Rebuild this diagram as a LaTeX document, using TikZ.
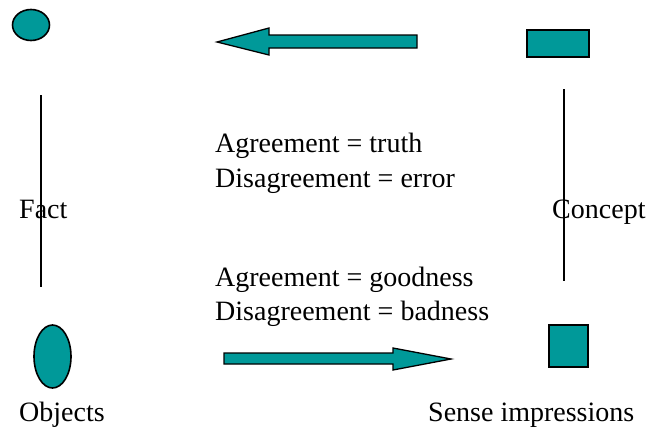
\documentclass[tikz,border=0pt]{standalone}
\usepackage{fontspec}
\setmainfont{Liberation Serif}
\definecolor{teal1}{RGB}{0,153,153}
\begin{document}
\begin{tikzpicture}[x=1pt,y=-1pt,
  shapebox/.style={draw=black,line width=1.6pt,fill=teal1},
  vline/.style={line width=2.6pt,black},
  lbl/.style={anchor=base west,inner sep=0pt,font=\fontsize{28}{34}\selectfont}]
\useasboundingbox (0,0) rectangle (652,429);
% shapes
\draw[shapebox] (31,25) ellipse [x radius=18.5,y radius=15.5];
\draw[shapebox] (527,30) rectangle (589,57);
\draw[shapebox] (52.5,356.5) ellipse [x radius=18.5,y radius=31.5];
\draw[shapebox] (549,325) rectangle (588,367);
% arrows
\draw[shapebox,line width=1.3pt,line join=miter] (217,42) -- (269,28) -- (269,35) -- (417,35) -- (417,48) -- (269,48) -- (269,55) -- cycle;
\draw[shapebox,line width=1.3pt,line join=miter] (451,359) -- (393,348) -- (393,353) -- (224,353) -- (224,364) -- (393,364) -- (393,370) -- cycle;
% texts
\node[lbl] (fact) at (19,218) {Fact};
\node[lbl] (concept) at (552,218) {Concept};
\node[lbl] (objects) at (19,421) {Objects};
\node[lbl] (sense) at (428,421) {Sense impressions};
\node[lbl] (t1) at (215,152) {Agreement = truth};
\node[lbl] (t2) at (215,187) {Disagreement = error};
\node[lbl] (t3) at (215,286) {Agreement = goodness};
\node[lbl] (t4) at (215,320) {Disagreement = badness};
% vertical lines
\coordinate (l1) at (41,95);
\coordinate (l2) at (41,287);
\coordinate (r1) at (564,89);
\coordinate (r2) at (564,281);
\draw[vline] (l1) -- (l2);
\draw[vline] (r1) -- (r2);
\end{tikzpicture}
\end{document}
